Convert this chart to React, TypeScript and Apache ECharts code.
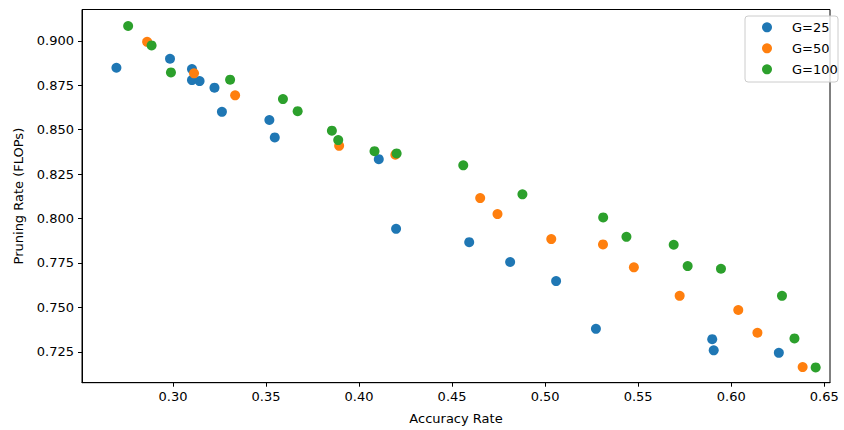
import React, { useEffect, useRef } from "react";
import * as echarts from "echarts";

const seriesNames = ["G=25", "G=50", "G=100"];
const seriesColors = ["#1f77b4", "#ff7f0e", "#2ca02c"];

const g25: [number, number][] = [
  [0.2696, 0.8848], [0.2984, 0.8899], [0.3102, 0.8841], [0.3102, 0.8779], [0.3143, 0.8773],
  [0.3223, 0.8736], [0.3263, 0.86], [0.3518, 0.8554], [0.3547, 0.8456], [0.4106, 0.8334],
  [0.4199, 0.7942], [0.4592, 0.7867], [0.4812, 0.7755], [0.5059, 0.7648], [0.5273, 0.7379],
  [0.5898, 0.7321], [0.5906, 0.7258], [0.6256, 0.7244],
];
const g50: [number, number][] = [
  [0.2861, 0.8994], [0.3113, 0.8817], [0.3334, 0.8693], [0.3893, 0.8409], [0.4195, 0.8359],
  [0.4651, 0.8115], [0.4744, 0.8025], [0.5033, 0.7884], [0.5311, 0.7854], [0.5477, 0.7725],
  [0.5723, 0.7565], [0.6038, 0.7485], [0.6141, 0.7357], [0.6384, 0.7164],
];
const g100: [number, number][] = [
  [0.2759, 0.9083], [0.2885, 0.8974], [0.2989, 0.8822], [0.3307, 0.8781], [0.3591, 0.8672],
  [0.367, 0.8604], [0.3854, 0.8494], [0.3888, 0.8441], [0.4083, 0.8379], [0.4202, 0.8366],
  [0.456, 0.8299], [0.4878, 0.8136], [0.5312, 0.8006], [0.5437, 0.7897], [0.5691, 0.7852],
  [0.5766, 0.7732], [0.5945, 0.7717], [0.6273, 0.7565], [0.634, 0.7325], [0.6454, 0.7162],
];

const xTicks = [0.3, 0.35, 0.4, 0.45, 0.5, 0.55, 0.6, 0.65];
const yTicks = [0.725, 0.75, 0.775, 0.8, 0.825, 0.85, 0.875, 0.9];

const FONT = "DejaVu Sans";

export default function App() {
  const ref = useRef<HTMLDivElement>(null);
  useEffect(() => {
    if (!ref.current) return;
    const chart = echarts.init(ref.current, undefined, { renderer: "svg" });
    const allData = [g25, g50, g100];
    const legendX = 745;
    const legendY = 16;
    const rowH = 21;
    const legendGraphics: any[] = [
      {
        type: "rect",
        shape: { x: legendX, y: legendY, width: 93, height: 66, r: 3 },
        style: { fill: "rgba(255,255,255,0.8)", stroke: "#cccccc", lineWidth: 1 },
        z: 100,
      },
    ];
    seriesNames.forEach((name, i) => {
      const cy = legendY + 11.3 + i * rowH;
      legendGraphics.push({
        type: "circle",
        shape: { cx: legendX + 22, cy, r: 5 },
        style: { fill: seriesColors[i] },
        z: 101,
      });
      legendGraphics.push({
        type: "text",
        x: legendX + 47,
        y: cy,
        style: {
          text: name,
          fill: "#000",
          font: `13px "${FONT}"`,
          verticalAlign: "middle",
          align: "left",
        },
        z: 101,
      });
    });
    chart.setOption({
      animation: false,
      textStyle: { fontFamily: FONT },
      grid: {
        left: 82,
        right: 14,
        top: 9.5,
        bottom: 47.3,
        show: true,
        borderColor: "#000",
        borderWidth: 1,
        backgroundColor: "transparent",
      },
      xAxis: {
        type: "value",
        min: 0.2511,
        max: 0.6531,
        name: "Accuracy Rate",
        nameLocation: "middle",
        nameGap: 29,
        nameTextStyle: { fontSize: 13, color: "#000", fontFamily: FONT },
        axisLine: { show: true, lineStyle: { color: "#000", width: 1 } },
        axisTick: { show: true, length: 4, lineStyle: { color: "#000" }, customValues: xTicks },
        axisLabel: {
          show: true,
          margin: 7,
          fontSize: 13,
          color: "#000",
          fontFamily: FONT,
          customValues: xTicks,
          formatter: (v: number) => v.toFixed(2),
        },
        splitLine: { show: false },
      },
      yAxis: {
        type: "value",
        min: 0.7076,
        max: 0.9176,
        name: "Pruning Rate (FLOPs)",
        nameLocation: "middle",
        nameGap: 57,
        nameRotate: 90,
        nameTextStyle: { fontSize: 13, color: "#000", fontFamily: FONT },
        axisLine: { show: true, lineStyle: { color: "#000", width: 1 } },
        axisTick: { show: true, length: 4, lineStyle: { color: "#000" }, customValues: yTicks },
        axisLabel: {
          show: true,
          margin: 8,
          fontSize: 13,
          color: "#000",
          fontFamily: FONT,
          customValues: yTicks,
          formatter: (v: number) => v.toFixed(3),
        },
        splitLine: { show: false },
      },
      series: seriesNames.map((name, i) => ({
        name,
        type: "scatter",
        data: allData[i],
        symbol: "circle",
        symbolSize: 10,
        itemStyle: { color: seriesColors[i], opacity: 1 },
        z: 2 + i,
      })),
      graphic: legendGraphics,
    });
    return () => chart.dispose();
  }, []);
  return (
    <div
      ref={ref}
      style={{ position: "absolute", left: 0, top: 0, width: 844, height: 430 }}
    />
  );
}
